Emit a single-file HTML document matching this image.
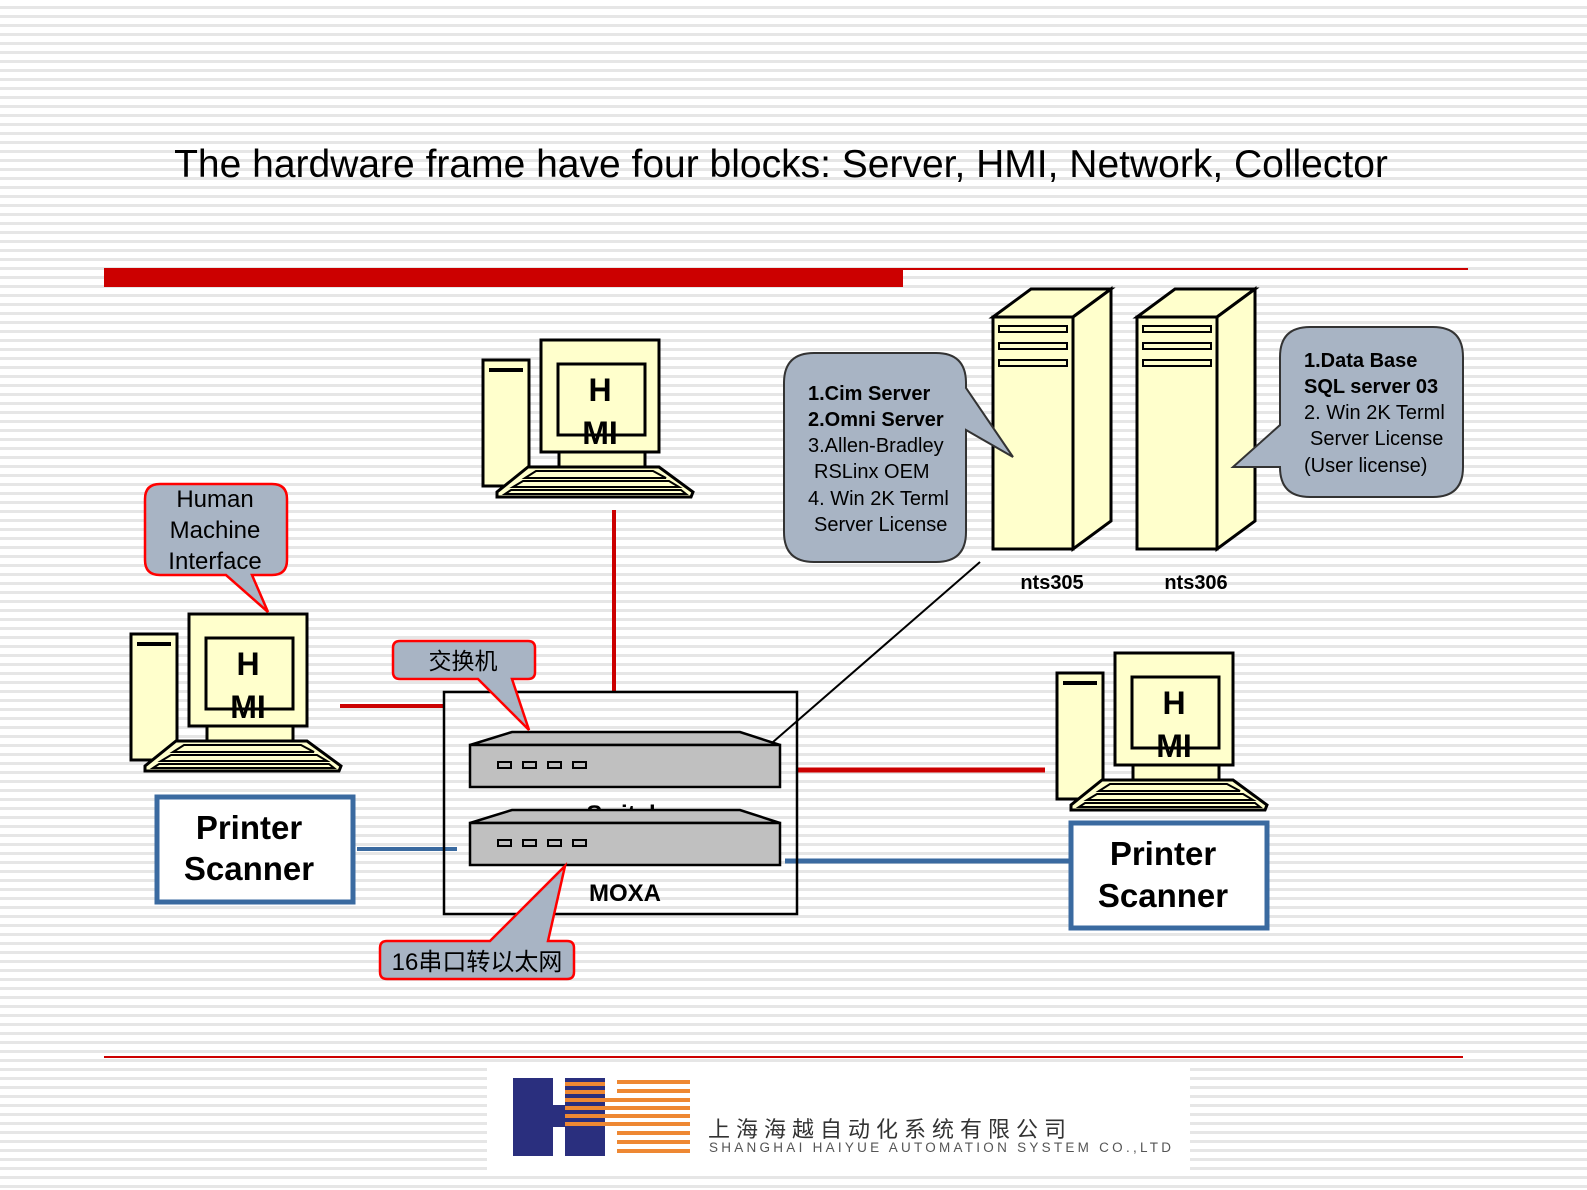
<!DOCTYPE html>
<html><head><meta charset="utf-8"><style>
html,body{margin:0;padding:0}
body{width:1587px;height:1190px;overflow:hidden;background:repeating-linear-gradient(to bottom,#fff 0,#fff 6px,#e6e6e6 6px,#e6e6e6 9px);font-family:"Liberation Sans",Arial,sans-serif}
svg{position:absolute;left:0;top:0}
</style></head><body>
<svg width="1587" height="1190" viewBox="0 0 1587 1190" font-family="Liberation Sans, Noto Sans CJK SC, sans-serif">
<defs>
<g id="pc" stroke="#000" stroke-width="3" fill="#ffffcc">
  <rect x="-58" y="20" width="46" height="126"/>
  <line x1="-52" y1="30" x2="-18" y2="30" stroke-width="4"/>
  <rect x="0" y="0" width="118" height="112"/>
  <rect x="17" y="24" width="87" height="71"/>
  <rect x="18" y="112" width="86" height="15"/>
  <path d="M-13,127 L118,127 L152,152 L150,157 L-44,157 L-44,152 Z"/>
  <path d="M-5,131 L112,131 L125,138 L-16,138 Z" stroke-width="2"/>
  <path d="M-18,141 L128,141 L138,147 L-28,147 Z" stroke-width="2"/>
  <path d="M-30,150 L140,150 L145,154 L-36,154 Z" stroke-width="2"/>
  <text x="59" y="61" font-size="32" font-weight="bold" text-anchor="middle" fill="#000" stroke="none">H</text>
  <text x="59" y="104" font-size="32" font-weight="bold" text-anchor="middle" fill="#000" stroke="none">MI</text>
</g>
<g id="srv" stroke="#000" stroke-width="3" fill="#ffffcc">
  <rect x="0" y="28" width="80" height="232"/>
  <path d="M0,28 L38,0 L118,0 L80,28 Z"/>
  <path d="M80,28 L118,0 L118,232 L80,260 Z"/>
  <rect x="6" y="37" width="68" height="6" stroke-width="2"/>
  <rect x="6" y="54" width="68" height="6" stroke-width="2"/>
  <rect x="6" y="71" width="68" height="6" stroke-width="2"/>
</g>
<g id="sw" stroke="#000" stroke-width="2.5" fill="#c0c0c0">
  <path d="M0,13 L42,0 L270,0 L310,13 Z"/>
  <rect x="0" y="13" width="310" height="42"/>
  <g fill="#c0c0c0" stroke-width="2"><rect x="28" y="30" width="13" height="6"/><rect x="53" y="30" width="13" height="6"/><rect x="78" y="30" width="13" height="6"/><rect x="103" y="30" width="13" height="6"/></g>
</g>
</defs>

<text x="781" y="177" font-size="39" text-anchor="middle" fill="#000">The hardware frame have four blocks: Server, HMI, Network, Collector</text>
<rect x="104" y="268" width="799" height="19" fill="#cc0000"/>
<line x1="903" y1="269" x2="1468" y2="269" stroke="#cc0000" stroke-width="2"/>
<line x1="104" y1="1057" x2="1463" y2="1057" stroke="#cc0000" stroke-width="2"/>

<!-- connections -->
<line x1="614" y1="510" x2="614" y2="692" stroke="#cc0000" stroke-width="4"/>
<line x1="340" y1="706" x2="443" y2="706" stroke="#cc0000" stroke-width="4"/>
<line x1="798" y1="770" x2="1045" y2="770" stroke="#cc0000" stroke-width="5"/>
<line x1="357" y1="849" x2="457" y2="849" stroke="#3a6aa0" stroke-width="4"/>
<line x1="785" y1="861" x2="1070" y2="861" stroke="#3a6aa0" stroke-width="5"/>
<line x1="980" y1="562" x2="773" y2="742" stroke="#000" stroke-width="2"/>

<!-- MOXA box -->
<rect x="444" y="692" width="353" height="222" fill="none" stroke="#000" stroke-width="2.5"/>
<use href="#sw" x="470" y="732"/>
<text x="625" y="822" font-size="24" font-weight="bold" text-anchor="middle">Switch</text>
<use href="#sw" x="470" y="810"/>
<text x="625" y="901" font-size="24" font-weight="bold" text-anchor="middle">MOXA</text>

<use href="#pc" x="189" y="614"/>
<use href="#pc" x="541" y="340"/>
<use href="#pc" x="1115" y="653"/>
<use href="#srv" x="993" y="289"/>
<use href="#srv" x="1137" y="289"/>
<text x="1052" y="589" font-size="20" font-weight="bold" text-anchor="middle">nts305</text>
<text x="1196" y="589" font-size="20" font-weight="bold" text-anchor="middle">nts306</text>

<!-- callouts -->
<path d="M160,484 H272 Q287,484 287,499 V560 Q287,575 272,575 H252 L268,612 L226,575 H160 Q145,575 145,560 V499 Q145,484 160,484 Z" fill="#a8b4c4" stroke="#ff0000" stroke-width="2.5"/>
<text font-size="24" text-anchor="middle"><tspan x="215" y="507">Human</tspan><tspan x="215" y="538">Machine</tspan><tspan x="215" y="569">Interface</tspan></text>

<path d="M400,641 H528 Q535,641 535,648 V672 Q535,679 528,679 H512 L529,730 L478,679 H400 Q393,679 393,672 V648 Q393,641 400,641 Z" fill="#a8b4c4" stroke="#ff0000" stroke-width="2.5"/>
<text x="463" y="669" font-size="23" text-anchor="middle">交换机</text>

<path d="M387,941 H490 L565,866 L548,941 H567 Q574,941 574,948 V972 Q574,979 567,979 H387 Q380,979 380,972 V948 Q380,941 387,941 Z" fill="#a8b4c4" stroke="#ff0000" stroke-width="2.5"/>
<text x="477" y="970" font-size="24" text-anchor="middle">16串口转以太网</text>

<path d="M814,353 H936 Q966,353 966,383 V388 L1013,457 L966,430 V532 Q966,562 936,562 H814 Q784,562 784,532 V383 Q784,353 814,353 Z" fill="#a8b4c4" stroke="#333" stroke-width="2"/>
<text font-size="20"><tspan x="808" y="400" font-weight="bold">1.Cim Server</tspan><tspan x="808" y="426" font-weight="bold">2.Omni Server</tspan><tspan x="808" y="452">3.Allen-Bradley</tspan><tspan x="814" y="478">RSLinx OEM</tspan><tspan x="808" y="505">4. Win 2K Terml</tspan><tspan x="814" y="531">Server License</tspan></text>

<path d="M1310,327 H1433 Q1463,327 1463,357 V467 Q1463,497 1433,497 H1310 Q1280,497 1280,467 V467 L1233,467 L1280,425 V357 Q1280,327 1310,327 Z" fill="#a8b4c4" stroke="#333" stroke-width="2"/>
<text font-size="20"><tspan x="1304" y="367" font-weight="bold">1.Data Base</tspan><tspan x="1304" y="393" font-weight="bold">SQL server 03</tspan><tspan x="1304" y="419">2. Win 2K Terml</tspan><tspan x="1310" y="445">Server License</tspan><tspan x="1304" y="472">(User license)</tspan></text>

<!-- printers -->
<rect x="157" y="797" width="196" height="105" fill="#fff" stroke="#3a6aa0" stroke-width="5"/>
<text font-size="33" font-weight="bold" text-anchor="middle"><tspan x="249" y="839">Printer</tspan><tspan x="249" y="880">Scanner</tspan></text>
<rect x="1071" y="823" width="196" height="105" fill="#fff" stroke="#3a6aa0" stroke-width="5"/>
<text font-size="33" font-weight="bold" text-anchor="middle"><tspan x="1163" y="865">Printer</tspan><tspan x="1163" y="907">Scanner</tspan></text>

<!-- logo -->
<rect x="487" y="1068" width="703" height="104" fill="#fff"/>
<g fill="#2a2f7e">
<rect x="513" y="1078" width="40" height="78"/><rect x="553" y="1105" width="22" height="22"/><rect x="565" y="1078" width="40" height="78"/>
</g>
<g fill="#ee8833">
<rect x="565" y="1082" width="40" height="4"/><rect x="565" y="1090" width="40" height="4"/><rect x="565" y="1098" width="40" height="4"/><rect x="565" y="1106" width="40" height="4"/><rect x="565" y="1114" width="40" height="4"/><rect x="565" y="1122" width="40" height="4"/>
<rect x="605" y="1098" width="30" height="4"/><rect x="605" y="1106" width="30" height="4"/><rect x="605" y="1114" width="30" height="4"/><rect x="605" y="1122" width="30" height="4"/>
<rect x="617" y="1080" width="73" height="4"/><rect x="617" y="1089" width="73" height="4"/><rect x="617" y="1098" width="73" height="4"/><rect x="617" y="1106" width="73" height="4"/><rect x="617" y="1114" width="73" height="4"/><rect x="617" y="1122" width="73" height="4"/><rect x="617" y="1131" width="73" height="4"/><rect x="617" y="1140" width="73" height="4"/><rect x="617" y="1149" width="73" height="4"/>
</g>
<text x="708" y="1137" font-size="22" fill="#333" letter-spacing="6">上海海越自动化系统有限公司</text>
<text x="709" y="1152" font-size="13.5" fill="#555" textLength="462">SHANGHAI HAIYUE AUTOMATION SYSTEM CO.,LTD</text>
</svg>
</body></html>
